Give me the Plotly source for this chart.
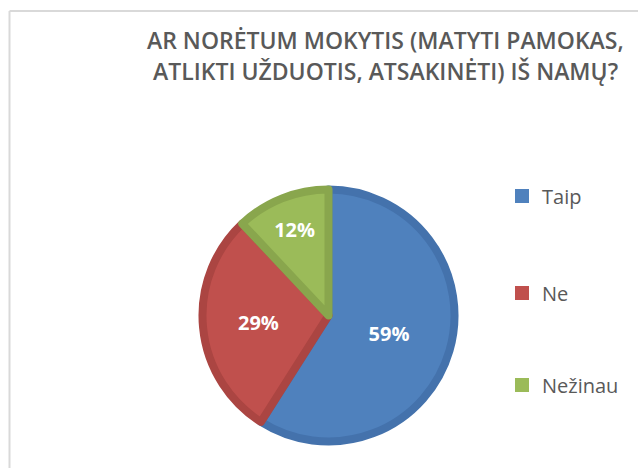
import plotly.graph_objects as go

# ---- data ----
labels = ["Taip", "Ne", "Nežinau"]
values = [59, 29, 12]
title_lines = ["AR NORĖTUM MOKYTIS (MATYTI PAMOKAS,", "ATLIKTI UŽDUOTIS, ATSAKINĖTI) IŠ NAMŲ?"]

# ---- styles ----
fill_colors = ["#4F81BD", "#C0504D", "#9BBB59"]
edge_colors = ["#4472AC", "#AB4542", "#89A64D"]

W, H = 638, 468
cx, cy, R, LW = 328.5, 315.5, 126, 8

fig = go.Figure()
fig.add_trace(go.Pie(
    labels=labels, values=values, sort=False, direction="clockwise", rotation=0,
    marker=dict(colors=fill_colors, line=dict(color=edge_colors, width=LW)),
    texttemplate="%{percent:.0%}", textposition="inside",
    insidetextorientation="horizontal",
    textfont=dict(family="Open Sans", size=20, color="white", weight="bold"),
    domain=dict(x=[(cx - R) / W, (cx + R) / W], y=[1 - (cy + R) / H, 1 - (cy - R) / H]),
    showlegend=False, hoverinfo="label+percent",
))

legend_names = ["legend", "legend2", "legend3"]
legend_y = [196, 293, 385]
for i, lab in enumerate(labels):
    fig.add_trace(go.Scatter(
        x=[None], y=[None], mode="markers", name=lab,
        marker=dict(symbol="square", size=14, color=fill_colors[i]),
        legend=legend_names[i], showlegend=True,
    ))

layout_legends = {}
for i, ln in enumerate(legend_names):
    layout_legends[ln] = dict(
        x=502 / W, y=1 - legend_y[i] / H, xanchor="left", yanchor="middle",
        bgcolor="rgba(0,0,0,0)", borderwidth=0,
        font=dict(family="Open Sans", size=20, color="#595959"),
    )

title_y = [40, 71]
annotations = [
    dict(text=t, x=385 / W, y=1 - title_y[i] / H, xref="paper", yref="paper",
         xanchor="center", yanchor="middle", showarrow=False,
         font=dict(family="Open Sans", size=23, color="#595959", weight=600))
    for i, t in enumerate(title_lines)
]

fig.update_layout(
    width=W, height=H, margin=dict(l=0, r=0, t=0, b=0),
    paper_bgcolor="white", plot_bgcolor="white",
    xaxis=dict(visible=False), yaxis=dict(visible=False),
    annotations=annotations,
    shapes=[
        dict(type="line", xref="paper", yref="paper", x0=9.5 / W, x1=9.5 / W, y0=0, y1=1 - 11 / H,
             line=dict(color="#D9D9D9", width=2)),
        dict(type="line", xref="paper", yref="paper", x0=9.5 / W, x1=1, y0=1 - 11 / H, y1=1 - 11 / H,
             line=dict(color="#D9D9D9", width=2)),
    ],
    **layout_legends,
)

fig.write_html("out.html", config={"displayModeBar": False},
               post_script="document.body.style.margin='0';")
